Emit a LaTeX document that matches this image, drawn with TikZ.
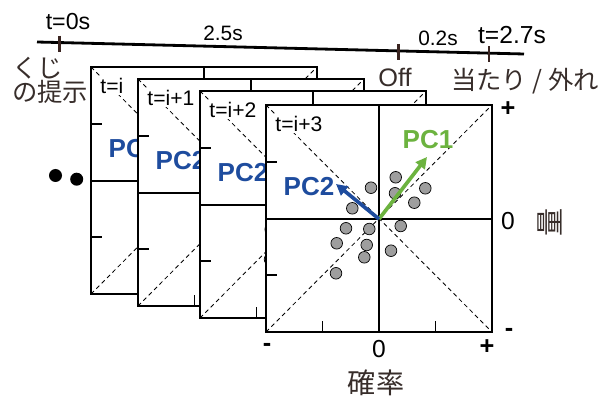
\documentclass[tikz,border=0pt]{standalone}
\usepackage{fontspec}
\setmainfont{Liberation Sans}
\newfontfamily\jpfont{Noto Sans CJK JP}
\usetikzlibrary{arrows.meta,calc,positioning}
\definecolor{pcblue}{RGB}{30,76,158}
\definecolor{pcgreen}{RGB}{108,179,63}
\definecolor{tickbrown}{RGB}{58,36,32}
\definecolor{jpgray}{RGB}{55,45,42}

\begin{document}
\begin{tikzpicture}[
  x=0.025cm, y=-0.025cm,
  every node/.style={inner sep=0pt},
  panel/.style={draw,fill=white,line width=1.4pt},
  diag/.style={line width=0.6pt,dash pattern=on 3pt off 2.4pt},
  axline/.style={line width=1.1pt},
  gdot/.style={fill=black!38,draw=black,line width=0.5pt},
  pcarrow/.style={line width=2.6pt,-{Triangle[length=8pt,width=8pt]}},
  pclabel/.style={font=\fontsize{18.5}{18.5}\selectfont\bfseries},
  tlabel/.style={font=\fontsize{15}{15}\selectfont,fill=white,inner sep=0.8pt},
  tmark/.style={draw=tickbrown,line width=2pt},
  jp/.style={text=jpgray,font=\fontsize{18}{17}\selectfont\jpfont},
  sign/.style={font=\fontsize{18}{18}\selectfont\bfseries},
  num/.style={font=\fontsize{17.5}{17.5}\selectfont}]

\useasboundingbox (0,0) rectangle (603,399);

% --- Timeline ---
\coordinate (tlstart) at (37,42);
\coordinate (tlend) at (524,54);
\draw[line width=2pt] (tlstart) -- (tlend)
  coordinate[pos=0.047] (t0)
  coordinate[pos=0.743] (toff)
  coordinate[pos=0.928] (tend);
\foreach \c in {t0,toff,tend}
  \draw[tmark] ($(\c)+(0,-7)$) -- ($(\c)+(0,9)$);

\node[font=\fontsize{16.5}{16.5}\selectfont] (lt0) at (68,22) {t=0s};
\node[font=\fontsize{14.8}{14.8}\selectfont] (ldur) at (223,33) {2.5s};
\node[font=\fontsize{14.8}{14.8}\selectfont] (lgap) at (438,38) {0.2s};
\node[font=\fontsize{17.5}{17.5}\selectfont] (lend) at (512,35) {t=2.7s};
\node[text=jpgray,font=\fontsize{18}{18}\selectfont] (loff) at (395,77) {Off};
\node[jp] (lres) at (525,81) {当たり / 外れ};
\node[jp,align=left,anchor=west] (lcue) at (12,80) {くじ\\の提示};

% --- Stacked panels, back to front ---
\foreach \fx/\fy/\flab [count=\k] in {91/67/t=i, 138/79/t=i+1,
                                      200/91/t=i+2, 266/105/t=i+3} {
  \begin{scope}[shift={(\fx,\fy)}]
    \path[panel] (0,0) rectangle (226,227);
    \draw[diag] (0,0) -- (226,227)  (0,227) -- (226,0);
    \draw[axline] (113,0) -- (113,227)  (0,114) -- (226,114);
    \draw[axline] (0,57) -- (11,57)  (0,170) -- (11,170)
                  (56.5,227) -- (56.5,216)  (169.5,227) -- (169.5,216);
    \foreach \dx/\dy in {129.7/72.3, 105/82.7, 129/88.3, 159.3/83.3,
                         148.3/97.7, 86.3/103.3, 80/123.3, 103.3/124,
                         134.7/121, 70.7/138.3, 100.7/140, 98.3/152.3,
                         125/145.7, 70/168.3}
      \filldraw[gdot] (\dx,\dy) circle[radius=5.8];
    \coordinate (o\k) at (113,114);
    \coordinate (pcone\k) at (161,52);
    \coordinate (pctwo\k) at (70,79);
    \draw[pcarrow,pcgreen] (o\k) -- (pcone\k);
    \draw[pcarrow,pcblue] (o\k) -- (pctwo\k);
    \node[pclabel,text=pcgreen] (lone\k) at (162,35) {PC1};
    \node[pclabel,text=pcblue] (ltwo\k) at (43,82) {PC2};
    \node[tlabel,anchor=west] (lab\k) at (8,19) {\flab};
    \draw[line width=1.4pt] (0,0) rectangle (226,227);
  \end{scope}
}

% --- Axis marks of the front panel ---
\node[sign] (ytop) at (508,109) {+};
\node[num] (yzero) at (508,221) {0};
\node[sign] (ybot) at (509,332) {-};
\node[jp,font=\fontsize{20}{20}\selectfont\jpfont,rotate=90] (ylab) at (550,222) {量};
\node[sign] (xleft) at (267,347) {-};
\node[num] (xzero) at (379,349) {0};
\node[sign] (xright) at (487,347) {+};
\node[jp,font=\fontsize{20}{20}\selectfont\jpfont] (xlab) at (376,383) {確率};

% --- Earlier trials ---
\fill (55.5,175.5) circle[radius=6.5];
\fill (76.7,179.2) circle[radius=6.5];

\end{tikzpicture}
\end{document}
